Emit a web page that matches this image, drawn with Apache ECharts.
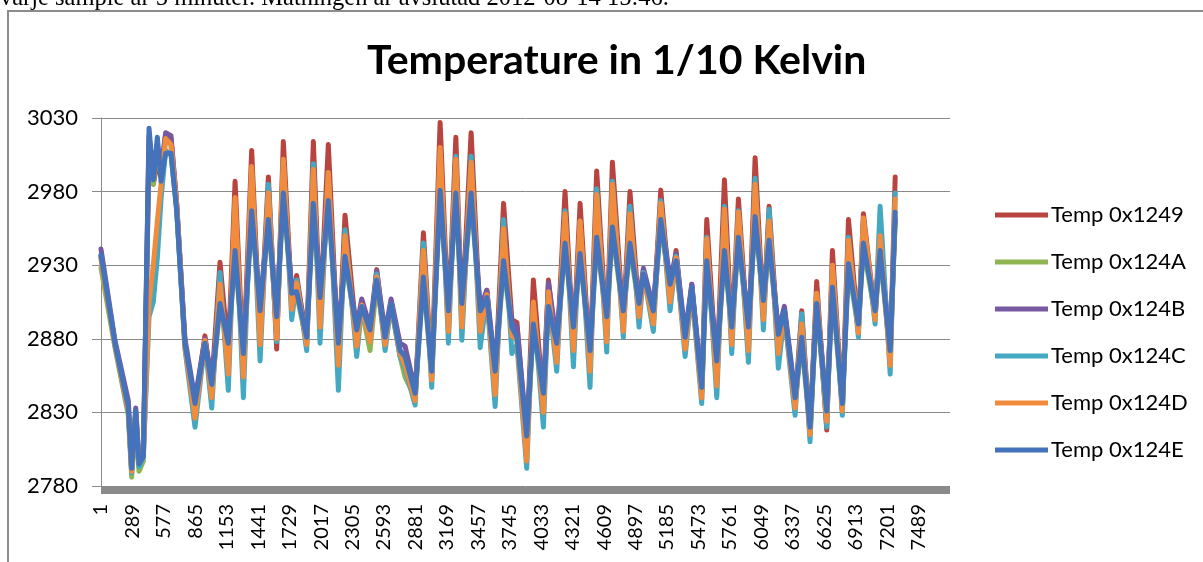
<!DOCTYPE html>
<html>
<head>
<meta charset="utf-8">
<script src="https://cdn.jsdelivr.net/npm/echarts@6/dist/echarts.min.js"></script>
<style>
html,body{margin:0;padding:0;background:#fff;}
#chart{width:1203px;height:562px;}
</style>
</head>
<body>
<div id="chart"></div>
<script>
// Sample offsets (0-based sample number) of the turning points
const sampleIdx = [0,128,250,281,318,348,388,440,479,516,550,592,641,693,769,861,952,1014,1090,1166,1228,1304,1380,1457,1533,1609,1670,1747,1792,1884,1945,2006,2082,2174,2235,2342,2388,2464,2525,2602,2657,2739,2785,2877,2953,3029,3106,3182,3250,3305,3390,3473,3534,3610,3687,3763,3810,3899,3960,4052,4098,4174,4250,4327,4388,4479,4540,4632,4684,4784,4845,4928,4968,5059,5127,5212,5267,5350,5411,5502,5548,5640,5710,5777,5838,5930,5991,6067,6119,6204,6259,6357,6418,6494,6555,6647,6699,6790,6846,6937,6983,7090,7136,7228,7274];

const temp1249 = [2936,2877,2832,2791,2829,2795,2800,3005,2985,3000,2990,3019,3016,2972,2877,2834,2882,2848,2932,2870,2987,2862,3008,2880,2990,2873,3014,2905,2923,2878,3014,2895,3012,2865,2964,2880,2905,2880,2927,2878,2905,2872,2865,2840,2952,2855,3027,2890,3017,2893,3020,2890,2913,2850,2972,2893,2891,2808,2920,2835,2920,2868,2980,2875,2972,2862,2994,2882,3000,2890,2980,2898,2926,2893,2981,2908,2940,2876,2917,2843,2961,2855,2988,2880,2975,2876,3003,2895,2970,2875,2900,2836,2899,2815,2919,2818,2940,2832,2961,2885,2965,2895,2950,2865,2990];
const temp124A = [2928,2874,2828,2786,2826,2790,2797,3012,2985,3010,2990,3015,3012,2968,2875,2832,2875,2846,2902,2874,2938,2866,2965,2896,2959,2892,2977,2908,2910,2878,2970,2905,2972,2874,2934,2883,2900,2872,2918,2878,2902,2868,2854,2840,2920,2855,2978,2896,2976,2900,2976,2896,2905,2855,2930,2885,2878,2810,2888,2840,2900,2874,2943,2885,2936,2869,2946,2892,2953,2896,2942,2901,2921,2896,2958,2914,2930,2878,2912,2844,2930,2862,2937,2885,2946,2885,2960,2903,2944,2880,2896,2837,2878,2817,2901,2828,2912,2833,2928,2887,2942,2896,2937,2869,2960];
const temp124B = [2941,2879,2838,2795,2833,2798,2802,3018,2990,3012,2995,3020,3018,2972,2880,2839,2880,2851,2908,2879,2945,2872,2972,2901,2966,2897,2984,2914,2918,2883,2977,2910,2978,2880,2940,2888,2907,2888,2926,2884,2907,2877,2875,2845,2926,2860,2986,2901,2984,2906,2984,2901,2913,2860,2938,2892,2888,2816,2895,2846,2918,2879,2950,2890,2943,2874,2954,2897,2960,2901,2950,2906,2928,2901,2968,2919,2938,2883,2917,2849,2938,2867,2945,2890,2953,2890,2968,2908,2952,2885,2902,2842,2886,2822,2908,2833,2920,2838,2936,2892,2950,2901,2945,2874,2962];
const temp124C = [2936,2876,2830,2789,2828,2793,2800,2895,2905,2935,2975,3008,3005,2968,2873,2820,2878,2833,2925,2845,2972,2840,2995,2865,2985,2878,3001,2893,2920,2872,2999,2877,2993,2845,2954,2868,2902,2878,2924,2872,2903,2868,2860,2835,2945,2847,3006,2877,3004,2879,3004,2874,2909,2834,2961,2870,2876,2792,2904,2820,2910,2858,2967,2861,2960,2847,2982,2871,2987,2881,2970,2888,2925,2885,2974,2899,2936,2868,2913,2836,2949,2840,2970,2870,2967,2864,2989,2886,2968,2860,2897,2828,2897,2810,2911,2820,2930,2828,2949,2881,2961,2890,2970,2856,2979];
const temp124D = [2934,2876,2831,2790,2828,2796,2801,2905,2930,2960,2985,3016,3012,2972,2875,2826,2879,2840,2917,2856,2976,2854,2997,2876,2979,2880,3002,2900,2918,2876,2995,2888,2993,2862,2950,2875,2903,2878,2922,2876,2904,2870,2862,2838,2940,2852,3010,2885,3002,2888,3000,2885,2910,2842,2955,2882,2880,2797,2905,2830,2912,2864,2965,2872,2960,2858,2978,2878,2985,2885,2965,2895,2924,2890,2972,2905,2935,2873,2914,2840,2948,2848,2968,2876,2966,2872,2985,2893,2960,2870,2898,2833,2890,2815,2911,2824,2930,2831,2947,2884,2962,2893,2950,2862,2975];
const temp124E = [2937,2877,2834,2792,2831,2795,2800,3023,2988,3017,2987,3006,3006,2967,2877,2836,2877,2849,2904,2877,2940,2870,2967,2899,2961,2895,2979,2911,2912,2881,2972,2908,2974,2877,2936,2886,2902,2886,2920,2881,2904,2872,2868,2843,2922,2858,2981,2899,2979,2904,2979,2899,2908,2858,2933,2888,2881,2814,2890,2843,2902,2877,2945,2888,2938,2872,2949,2895,2956,2899,2945,2904,2924,2899,2961,2917,2933,2881,2915,2847,2933,2865,2940,2888,2949,2888,2963,2906,2947,2883,2899,2840,2881,2820,2904,2831,2915,2836,2931,2890,2945,2899,2940,2872,2966];

const seriesNames = ['Temp 0x1249','Temp 0x124A','Temp 0x124B','Temp 0x124C','Temp 0x124D','Temp 0x124E'];
const seriesValues = [temp1249, temp124A, temp124B, temp124C, temp124D, temp124E];
const seriesColors = ['#B9443F','#8FB553','#7659A0','#44A8C2','#F08C3C','#4473BB'];
const xTickLabels = ['1','289','577','865','1153','1441','1729','2017','2305','2593','2881','3169','3457','3745','4033','4321','4609','4897','5185','5473','5761','6049','6337','6625','6913','7201','7489'];
const yTicks = [2780, 2830, 2880, 2930, 2980, 3030];
const titleText = 'Temperature in 1/10 Kelvin';
const noteText = 'varje sample är 5 minuter. Mätningen är avslutad 2012-08-14 15:46.';

const chart = echarts.init(document.getElementById('chart'), null, {renderer: 'canvas'});
const series = seriesNames.map((name, k) => ({
  name: name,
  type: 'line',
  data: sampleIdx.map((x, i) => [x, seriesValues[k][i]]),
  symbol: 'none',
  showSymbol: false,
  lineStyle: {color: seriesColors[k], width: 5, cap: 'round', join: 'round'},
  itemStyle: {color: seriesColors[k]},
  emphasis: {disabled: true},
  animation: false
}));

chart.setOption({
  animation: false,
  backgroundColor: '#ffffff',
  textStyle: {fontFamily: 'Lato'},
  title: {
    text: titleText,
    left: 362, top: 35,
    textStyle: {fontFamily: 'Lato', fontWeight: 'bold', fontSize: 41, color: '#000'}
  },
  graphic: [
    {type: 'rect', silent: true, shape: {x: 8, y: 11, width: 1400, height: 800},
     style: {fill: 'transparent', stroke: '#8c8c8c', lineWidth: 2}},
    {type: 'text', silent: true, x: 0, y: 11,
     style: {text: noteText, font: '24.5px "Liberation Serif"', fill: '#000', verticalAlign: 'bottom'}}
  ],
  legend: {
    orient: 'vertical',
    left: 990, top: 199,
    itemWidth: 53, itemHeight: 5, itemGap: 25,
    icon: 'rect',
    data: seriesNames,
    textStyle: {fontFamily: 'Lato', fontSize: 22, color: '#000', padding: [0,0,0,-2]}
  },
  grid: {left: 101, right: 253, top: 118, bottom: 76, containLabel: false},
  xAxis: {
    type: 'value', min: 0, max: 7776, interval: 288,
    offset: 4,
    axisLine: {show: true, lineStyle: {color: '#8a8a8a', width: 7, cap: 'butt'}},
    axisTick: {show: false},
    splitLine: {show: false},
    axisLabel: {
      rotate: 90, fontSize: 20, color: '#000', fontFamily: 'Lato', margin: 14,
      showMaxLabel: false,
      formatter: v => { const i = Math.round(v / 288); return xTickLabels[i] !== undefined ? xTickLabels[i] : ''; }
    }
  },
  yAxis: {
    type: 'value', min: yTicks[0], max: yTicks[yTicks.length - 1], interval: 50,
    axisLine: {show: true, lineStyle: {color: '#8a8a8a', width: 1}},
    axisTick: {show: true, length: 9, lineStyle: {color: '#8a8a8a'}},
    splitLine: {show: true, lineStyle: {color: '#8a8a8a', width: 1}},
    axisLabel: {fontSize: 22, color: '#000', fontFamily: 'Lato', margin: 23, formatter: v => String(v)}
  },
  series: series
});
</script>
</body>
</html>
